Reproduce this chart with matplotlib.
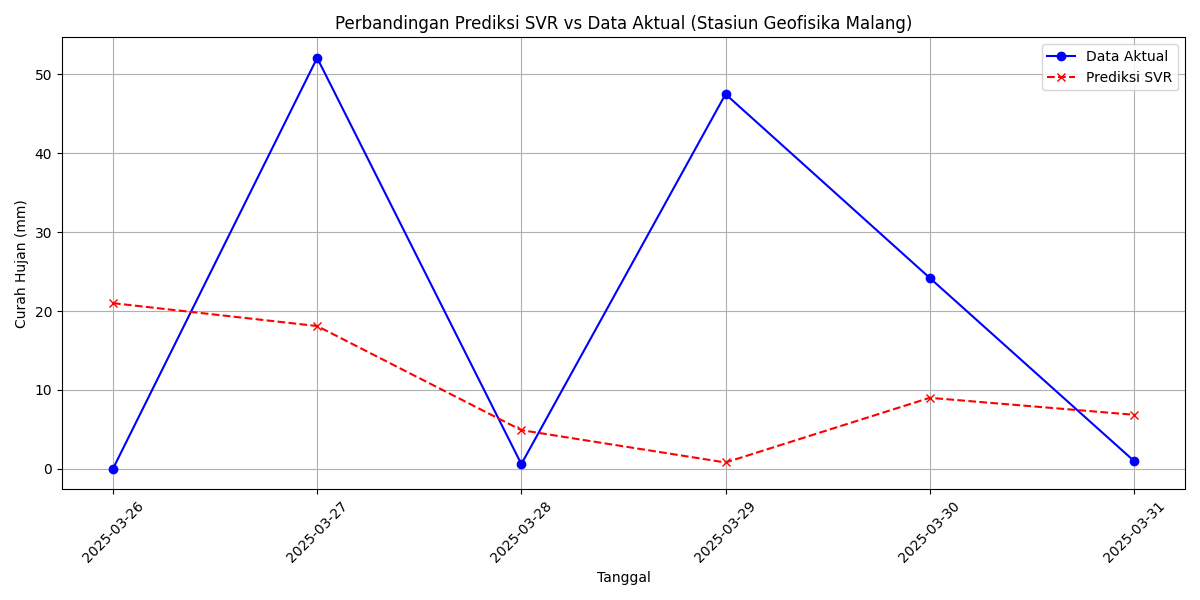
import matplotlib
matplotlib.use("Agg")
import matplotlib.pyplot as plt
import pandas as pd

tanggal = ["2025-03-26", "2025-03-27", "2025-03-28", "2025-03-29", "2025-03-30", "2025-03-31"]
data_aktual = [0.0, 52.1, 0.6, 47.5, 24.2, 1.0]
prediksi_svr = [21.0, 18.1, 4.9, 0.8, 9.0, 6.85]

dates = pd.to_datetime(tanggal)

fig, ax = plt.subplots(figsize=(12, 6), dpi=100)
ax.plot(dates, data_aktual, color="blue", marker="o", linestyle="-", label="Data Aktual")
ax.plot(dates, prediksi_svr, color="red", marker="x", linestyle="--", label="Prediksi SVR")
ax.set_title("Perbandingan Prediksi SVR vs Data Aktual (Stasiun Geofisika Malang)")
ax.set_xlabel("Tanggal")
ax.set_ylabel("Curah Hujan (mm)")
ax.set_xticks(dates)
ax.set_xticklabels(tanggal, rotation=45)
ax.legend()
ax.grid(True)
fig.tight_layout()
fig.savefig("out.png")
